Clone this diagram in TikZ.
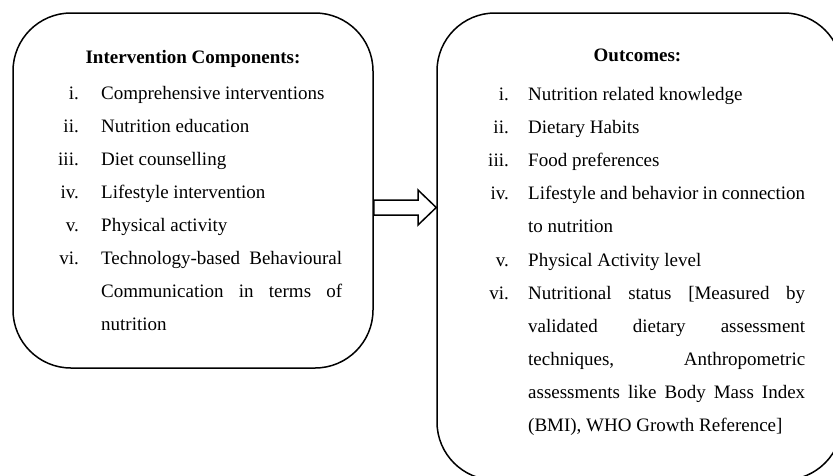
\documentclass[tikz,border=0pt]{standalone}
\usepackage{fontspec}
\setmainfont{Liberation Serif}
\newcommand{\linecol}{black}
\newcommand{\lwidth}{1.5pt}
\newcommand{\lfill}[1]{\makebox[241pt][s]{#1}}
\newcommand{\rfill}[1]{\makebox[277pt][s]{#1}}
\tikzset{
  bigbox/.style={draw=\linecol, line width=\lwidth, rounded corners=58pt, inner sep=0pt},
  arrowline/.style={draw=\linecol, line width=\lwidth, fill=white, line join=miter},
  numlab/.style={anchor=base east, inner sep=0pt, font=\fontsize{19}{33}\selectfont},
  itemtxt/.style={anchor=base west, inner sep=0pt, font=\fontsize{19}{33}\selectfont},
  headtxt/.style={anchor=base, inner sep=0pt, font=\fontsize{19}{33}\selectfont\bfseries}
}

\begin{document}
\begin{tikzpicture}[x=1pt, y=-1pt]

    \useasboundingbox (0, 0) rectangle (833, 475);
    \clip (0, 0) rectangle (833, 475);

    \node[bigbox, minimum width=360pt, minimum height=355pt] (comp) at (193, 190.5) {};
    \node[bigbox, minimum width=405pt, minimum height=467pt] (out) at (639.5, 246.5) {};

    \draw[arrowline] (comp.east |- 0,200) -- (418, 200) -- (418, 190)
        -- (out.west |- 0,207.5) -- (418, 225) -- (418, 215) -- (comp.east |- 0,215) -- cycle;

    % left box
    \node[headtxt] (comph) at (193, 63) {Intervention Components:};

    \node[numlab] (cn1) at (79, 99) {i.};
    \node[numlab] (cn2) at (79, 132) {ii.};
    \node[numlab] (cn3) at (79, 165) {iii.};
    \node[numlab] (cn4) at (79, 198) {iv.};
    \node[numlab] (cn5) at (79, 231) {v.};
    \node[numlab] (cn6) at (79, 264) {vi.};

    \node[itemtxt] (ct1) at (101, 99) {Comprehensive interventions};
    \node[itemtxt] (ct2) at (101, 132) {Nutrition education};
    \node[itemtxt] (ct3) at (101, 165) {Diet counselling};
    \node[itemtxt] (ct4) at (101, 198) {Lifestyle intervention};
    \node[itemtxt] (ct5) at (101, 231) {Physical activity};
    \node[itemtxt] (ct6) at (101, 264) {\lfill{Technology-based Behavioural}};
    \node[itemtxt] (ct6b) at (101, 297) {\lfill{Communication in terms of}};
    \node[itemtxt] (ct6c) at (101, 330) {nutrition};

    % right box
    \node[headtxt] (outh) at (637.5, 61) {Outcomes:};

    \node[numlab] (on1) at (509, 100) {i.};
    \node[numlab] (on2) at (509, 133) {ii.};
    \node[numlab] (on3) at (509, 166) {iii.};
    \node[numlab] (on4) at (509, 199) {iv.};
    \node[numlab] (on5) at (509, 266) {v.};
    \node[numlab] (on6) at (509, 299) {vi.};

    \node[itemtxt] (ot1) at (528, 100) {Nutrition related knowledge};
    \node[itemtxt] (ot2) at (528, 133) {Dietary Habits};
    \node[itemtxt] (ot3) at (528, 166) {Food preferences};
    \node[itemtxt] (ot4) at (528, 199) {\rfill{Lifestyle and behavior in connection}};
    \node[itemtxt] (ot4b) at (528, 232) {to nutrition};
    \node[itemtxt] (ot5) at (528, 266) {Physical Activity level};
    \node[itemtxt] (ot6) at (528, 299) {\rfill{Nutritional status [Measured by}};
    \node[itemtxt] (ot6b) at (528, 332) {\rfill{validated dietary assessment}};
    \node[itemtxt] (ot6c) at (528, 365) {\rfill{techniques, Anthropometric}};
    \node[itemtxt] (ot6d) at (528, 398) {\rfill{assessments like Body Mass Index}};
    \node[itemtxt] (ot6e) at (528, 431) {(BMI), WHO Growth Reference]};

  \end{tikzpicture}
\end{document}
